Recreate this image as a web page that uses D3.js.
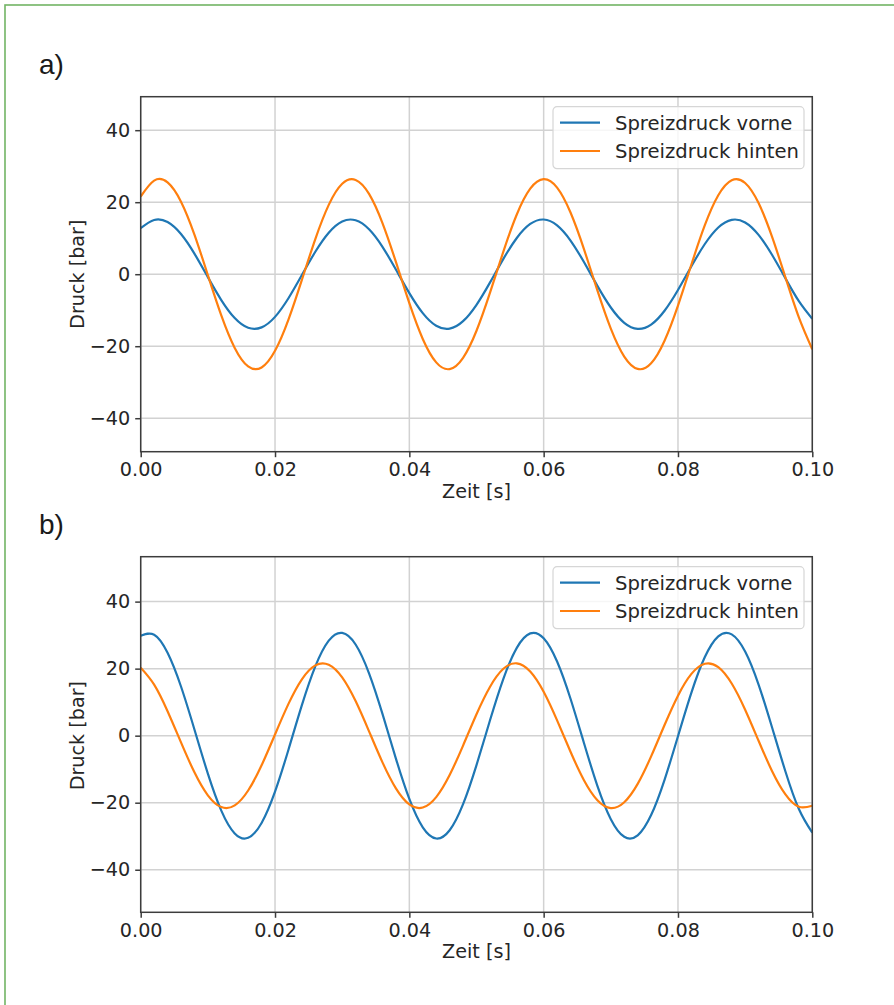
<!DOCTYPE html>
<html>
<head>
<meta charset="utf-8">
<script src="https://cdn.jsdelivr.net/npm/d3@7"></script>
<style>
  html, body { margin: 0; padding: 0; background: #ffffff; }
  svg { display: block; }
  text { font-family: "DejaVu Sans", sans-serif; fill: #262626; }
</style>
</head>
<body>
<script>
// Zeitachse [s], Abtastung alle 2 ms
const zeit = [0.000,0.002,0.004,0.006,0.008,0.010,0.012,0.014,0.016,0.018,
  0.020,0.022,0.024,0.026,0.028,0.030,0.032,0.034,0.036,0.038,
  0.040,0.042,0.044,0.046,0.048,0.050,0.052,0.054,0.056,0.058,
  0.060,0.062,0.064,0.066,0.068,0.070,0.072,0.074,0.076,0.078,
  0.080,0.082,0.084,0.086,0.088,0.090,0.092,0.094,0.096,0.098,0.100];

// a) Spreizdruck [bar]
const vorneA = [12.79,15.07,14.49,11.16,5.72,-0.81,-7.18,-12.19,-14.89,-14.77,
  -11.85,-6.68,-0.24,6.24,11.53,14.65,14.98,12.48,7.61,1.30,
  -5.26,-10.82,-14.33,-15.13,-13.05,-8.50,-2.34,4.26,10.06,13.95,
  15.19,13.56,9.35,3.37,-3.25,-9.25,-13.50,-15.19,-14.00,-10.16,
  -4.39,2.21,8.39,12.98,15.11,14.38,10.92,5.39,-1.16,-7.49,-12.40];
const hintenA = [21.57,26.00,25.49,20.15,11.00,-0.25,-11.44,-20.47,-25.61,-25.90,
  -21.28,-12.62,-1.58,9.77,19.26,25.11,26.19,22.31,14.20,3.40,
  -8.05,-17.98,-24.49,-26.36,-23.23,-15.70,-5.20,6.29,16.59,23.75,
  26.40,24.05,17.13,6.98,-4.51,-15.13,-22.89,-26.31,-24.74,-18.47,
  -8.72,2.70,13.60,21.92,26.10,25.32,19.75,10.43,-0.87,-12.00,-20.85];

// b) Spreizdruck [bar]
const vorneB = [29.81,30.11,24.72,14.67,1.85,-11.32,-22.36,-29.17,-30.48,-26.04,
  -16.69,-4.19,9.10,20.67,28.35,30.67,27.21,18.61,6.50,-6.83,
  -18.88,-27.36,-30.68,-28.22,-20.43,-8.78,4.52,16.97,26.21,30.52,
  29.06,22.12,11.01,-2.18,-14.96,-24.91,-30.17,-29.73,-23.69,-13.17,
  -0.17,12.86,23.46,29.65,30.23,25.11,15.26,2.53,-10.69,-21.88,-28.95];
const hintenB = [20.29,15.23,7.30,-2.01,-10.94,-17.80,-21.31,-20.80,-16.36,-8.84,
  0.35,9.48,16.82,20.98,21.18,17.39,10.32,1.30,-7.97,-15.73,
  -20.52,-21.44,-18.32,-11.74,-2.95,6.40,14.54,19.95,21.58,19.14,
  13.10,4.57,-4.80,-13.28,-19.25,-21.59,-19.85,-14.38,-6.18,3.18,
  11.94,18.44,21.47,20.45,15.56,7.75,-1.53,-10.52,-17.53,-21.23,-20.92];

const xTicks = [0.00, 0.02, 0.04, 0.06, 0.08, 0.10];
const yTicks = [-40, -20, 0, 20, 40];
const seriesNames = ["Spreizdruck vorne", "Spreizdruck hinten"];
const seriesColors = ["#1f77b4", "#ff7f0e"];
const panelLabels = ["a)", "b)"];
const xLabel = "Zeit [s]";
const yLabel = "Druck [bar]";

const panels = [
  { label: panelLabels[0], series: [vorneA, hintenA], top: 96.7, bottom: 451.7, yDomain: [-49.3, 49.3] },
  { label: panelLabels[1], series: [vorneB, hintenB], top: 556.7, bottom: 912.3, yDomain: [-52.7, 53.4] }
];

const W = 894, H = 1005;
const left = 140.7, right = 812.3;
const fs = 19.2;

const svg = d3.select("body").append("svg")
  .attr("width", W).attr("height", H);

// green frame around the figure
svg.append("rect")
  .attr("x", 5).attr("y", 5)
  .attr("width", W + 10).attr("height", H + 10)
  .attr("fill", "none")
  .attr("stroke", "#72b464")
  .attr("stroke-width", 1.6);

const x = d3.scaleLinear().domain([0, 0.1]).range([left, right]);

panels.forEach((p, i) => {
  const y = d3.scaleLinear().domain(p.yDomain).range([p.bottom, p.top]);
  const g = svg.append("g");

  // panel label
  g.append("text")
    .attr("x", 39).attr("y", p.top - 22.5)
    .style("font-family", "'Liberation Sans', Arial, sans-serif")
    .style("font-size", "28px")
    .style("fill", "#1a1a1a")
    .text(p.label);

  // grid
  g.append("g").selectAll("line").data(xTicks).join("line")
    .attr("x1", d => x(d)).attr("x2", d => x(d))
    .attr("y1", p.top).attr("y2", p.bottom)
    .attr("stroke", "#d2d2d2").attr("stroke-width", 1.5);
  g.append("g").selectAll("line").data(yTicks).join("line")
    .attr("x1", left).attr("x2", right)
    .attr("y1", d => y(d)).attr("y2", d => y(d))
    .attr("stroke", "#d2d2d2").attr("stroke-width", 1.5);

  // clip for data lines
  const clipId = "clip" + i;
  svg.append("clipPath").attr("id", clipId)
    .append("rect")
    .attr("x", left).attr("y", p.top)
    .attr("width", right - left).attr("height", p.bottom - p.top);

  const line = d3.line()
    .x((d, k) => x(zeit[k]))
    .y(d => y(d))
    .curve(d3.curveNatural);

  p.series.forEach((s, k) => {
    g.append("path")
      .datum(s)
      .attr("d", line)
      .attr("fill", "none")
      .attr("stroke", seriesColors[k])
      .attr("stroke-width", 2.2)
      .attr("stroke-linejoin", "round")
      .attr("clip-path", `url(#${clipId})`);
  });

  // frame
  g.append("rect")
    .attr("x", left).attr("y", p.top)
    .attr("width", right - left).attr("height", p.bottom - p.top)
    .attr("fill", "none")
    .attr("stroke", "#3c3c3c").attr("stroke-width", 1.5);

  // axes
  const xAxis = g.append("g")
    .attr("transform", `translate(0,${p.bottom})`)
    .call(d3.axisBottom(x).tickValues(xTicks).tickFormat(d3.format(".2f"))
      .tickSize(5.5).tickPadding(5));
  const yAxis = g.append("g")
    .attr("transform", `translate(${left},0)`)
    .call(d3.axisLeft(y).tickValues(yTicks).tickFormat(d3.format("d"))
      .tickSize(5.5).tickPadding(5));
  [xAxis, yAxis].forEach(a => {
    a.select(".domain").remove();
    a.selectAll(".tick line").attr("stroke", "#3c3c3c").attr("stroke-width", 1.5);
    a.selectAll(".tick text")
      .style("font-family", "'DejaVu Sans', sans-serif")
      .style("font-size", fs + "px")
      .attr("fill", "#262626");
  });
  xAxis.selectAll(".tick text").attr("dy", null).attr("y", 24.6);

  // axis titles
  g.append("text")
    .attr("x", (left + right) / 2).attr("y", p.bottom + 46)
    .attr("text-anchor", "middle")
    .style("font-size", fs + "px")
    .text(xLabel);
  g.append("text")
    .attr("transform", `translate(84,${y(0)}) rotate(-90)`)
    .attr("text-anchor", "middle")
    .style("font-size", fs + "px")
    .text(yLabel);

  // legend
  const lg = g.append("g").attr("transform", `translate(553,${p.top + 10})`);
  lg.append("rect")
    .attr("width", 251).attr("height", 62)
    .attr("rx", 4).attr("ry", 4)
    .attr("fill", "#ffffff").attr("fill-opacity", 0.8)
    .attr("stroke", "#d6d6d6").attr("stroke-width", 1.2);
  seriesNames.forEach((name, k) => {
    const cy = 16 + k * 28.3;
    lg.append("line")
      .attr("x1", 7).attr("x2", 47)
      .attr("y1", cy).attr("y2", cy)
      .attr("stroke", seriesColors[k]).attr("stroke-width", 2.2);
    lg.append("text")
      .attr("x", 62).attr("y", cy)
      .attr("dy", "0.35em")
      .style("font-size", "19.6px")
      .text(name);
  });
});
</script>
</body>
</html>
